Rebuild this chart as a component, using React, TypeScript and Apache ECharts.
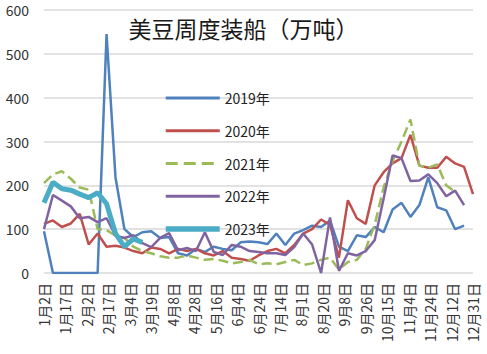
import React, { useEffect, useRef } from "react";
import * as echarts from "echarts";

const xLabels = [
  "1月2日", "1月17日", "2月2日", "2月17日", "3月4日", "3月19日", "4月8日",
  "4月28日", "5月16日", "6月4日", "6月24日", "7月14日", "8月1日", "8月20日",
  "9月8日", "9月26日", "10月15日", "11月4日", "11月24日", "12月12日", "12月31日",
];

const yTicks = [0, 100, 200, 300, 400, 500, 600];

const weekCount = 49;

const s2019 = [95, 0, 0, 0, 0, 0, 0, 545, 218, 100, 82, 93, 95, 80, 82, 45, 40, 55, 48, 60, 55, 52, 70, 72, 70, 66, 90, 64, 90, 98, 108, 105, 120, 60, 50, 86, 82, 105, 93, 145, 160, 128, 155, 218, 150, 143, 100, 108];
const s2020 = [112, 120, 105, 113, 135, 65, 90, 60, 62, 58, 50, 45, 58, 55, 45, 55, 50, 55, 45, 40, 50, 35, 32, 28, 40, 50, 55, 45, 64, 90, 100, 122, 110, 35, 166, 125, 112, 200, 230, 250, 262, 315, 245, 240, 240, 265, 250, 242, 180];
const s2021 = [205, 225, 232, 215, 195, 190, 100, 98, 85, 80, 60, 50, 45, 38, 35, 35, 40, 35, 30, 32, 28, 22, 25, 30, 20, 22, 20, 25, 30, 18, 22, 30, 35, 8, 25, 30, 55, 110, 195, 255, 300, 350, 245, 240, 248, 200, 185];
const s2022 = [100, 178, 165, 152, 125, 128, 116, 125, 85, 80, 86, 68, 59, 80, 91, 52, 57, 50, 93, 48, 41, 64, 60, 50, 48, 45, 45, 41, 59, 90, 65, 0, 127, 5, 45, 40, 50, 75, 170, 268, 262, 210, 211, 225, 205, 175, 188, 155];
const s2023 = [160, 207, 192, 189, 180, 172, 183, 158, 90, 60, 78, 70];

const seriesNames = ["2019年", "2020年", "2021年", "2022年", "2023年"];
const seriesData = [s2019, s2020, s2021, s2022, s2023];
const seriesColors = ["#4F81BD", "#C0504D", "#9BBB59", "#8064A2", "#4BACC6"];
const seriesWidths = [2.5, 2.5, 2.5, 2.5, 5];
const seriesTypes = ["solid", "solid", "dashed", "solid", "solid"];

const FONT = "'Noto Sans CJK SC', 'Noto Sans', sans-serif";

export default function App() {
  const ref = useRef<HTMLDivElement>(null);

  useEffect(() => {
    if (!ref.current) return;
    const chart = echarts.init(ref.current, null, { renderer: "svg" });
    const option = {
      animation: false,
      backgroundColor: "#ffffff",
      textStyle: { fontFamily: FONT },
      title: {
        text: "美豆周度装船（万吨）",
        left: "center",
        top: 16,
        padding: 0,
        textStyle: { fontSize: 23, fontWeight: "normal", color: "#1a1a1a", fontFamily: FONT },
      },
      legend: {
        orient: "vertical",
        left: 163,
        top: 91,
        itemWidth: 54,
        itemHeight: 14,
        itemGap: 18.75,
        padding: 0,
        data: seriesNames.map((name, k) => ({
          name,
          itemStyle: { opacity: 0 },
          lineStyle: { color: seriesColors[k], width: seriesWidths[k] + 0.5, type: seriesTypes[k] },
        })),
        textStyle: { fontSize: 14, color: "#222", lineHeight: 14, fontFamily: FONT },
      },
      grid: { left: 44, right: 14, top: 10, bottom: 81, containLabel: false },
      xAxis: [
        {
          type: "category",
          data: xLabels,
          boundaryGap: false,
          axisLine: { show: false },
          axisTick: { show: false },
          axisLabel: { rotate: 90, interval: 0, fontSize: 14, color: "#333", margin: 10, fontFamily: FONT },
          splitLine: { show: false },
        },
        { type: "value", min: 0, max: weekCount - 1, show: false },
      ],
      yAxis: {
        type: "value",
        min: yTicks[0],
        max: yTicks[yTicks.length - 1],
        interval: 100,
        axisLine: { show: false },
        axisTick: { show: false },
        axisLabel: { fontSize: 14, color: "#333", margin: 15, fontFamily: FONT },
        splitLine: { lineStyle: { color: "#d9d9d9", width: 1.5 } },
      },
      series: seriesNames.map((name, k) => ({
        name,
        type: "line",
        xAxisIndex: 1,
        symbol: "none",
        showSymbol: false,
        color: seriesColors[k],
        lineStyle: { color: seriesColors[k], width: seriesWidths[k], type: seriesTypes[k] },
        data: seriesData[k].map((v, i) => [i, v]),
      })),
    };
    chart.setOption(option);
    return () => chart.dispose();
  }, []);

  return (
    <div
      ref={ref}
      style={{ position: "fixed", left: 0, top: 0, width: 487, height: 354 }}
    />
  );
}
